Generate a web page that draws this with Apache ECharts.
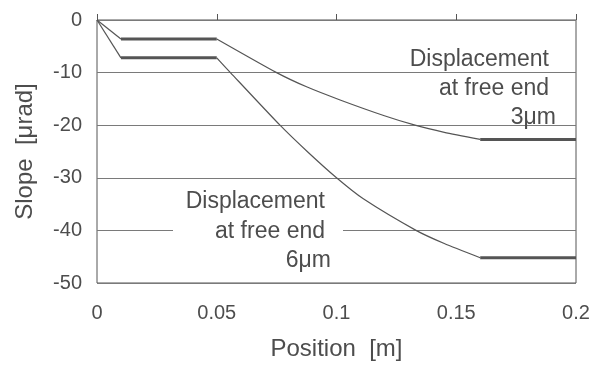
<!DOCTYPE html>
<html>
<head>
<meta charset="utf-8">
<script src="https://cdn.jsdelivr.net/npm/echarts@6/dist/echarts.min.js"></script>
<style>
  html, body { margin: 0; padding: 0; background: #fff; }
  #chart { width: 593px; height: 366px; }
</style>
</head>
<body>
<div id="chart"></div>
<script>
// position [m] and slope [urad]
const pos3 = [0, 0.01, 0.05, 0.075, 0.0875, 0.1015, 0.12, 0.1328, 0.145, 0.16, 0.2];
const slope3 = [0, -3.6, -3.6, -10, -12.7, -15.2, -18.2, -20, -21.35, -22.7, -22.7];

const pos6 = [0, 0.01, 0.05, 0.0557, 0.0764, 0.088, 0.1, 0.1112, 0.1332, 0.145, 0.16, 0.2];
const slope6 = [0, -7.2, -7.2, -10, -20, -25.1, -30, -34.0, -40, -42.5, -45.2, -45.2];

const xTicks = [0, 0.05, 0.1, 0.15, 0.2];
const yTicks = [-50, -40, -30, -20, -10, 0];

const font = '"Liberation Sans", Arial, sans-serif';
const ink = '#4d4d4d';
const lineCol = '#555';

function pts(xs, ys, a, b) {
  const out = [];
  for (let i = a; i <= b; i++) out.push([xs[i], ys[i]]);
  return out;
}

// each curve: thin ramp, thick flat, thin bend, thick flat
function curveSeries(xs, ys) {
  const n = xs.length;
  const thin = { color: lineCol, width: 1.2 };
  const thick = { color: lineCol, width: 3 };
  return [
    { type: 'line', data: pts(xs, ys, 0, 1), lineStyle: thin },
    { type: 'line', data: pts(xs, ys, 1, 2), lineStyle: thick },
    { type: 'line', data: pts(xs, ys, 2, n - 2), lineStyle: thin, smooth: 0.2 },
    { type: 'line', data: pts(xs, ys, n - 2, n - 1), lineStyle: thick },
  ].map(s => Object.assign(s, { symbol: 'none', z: 3, silent: true }));
}

let myChart = echarts.init(document.getElementById('chart'));

let option = {
  animation: false,
  backgroundColor: '#fff',
  textStyle: { fontFamily: font },
  grid: {
    left: 97, right: 17, top: 20, bottom: 80,
    show: true, borderColor: lineCol, borderWidth: 1,
  },
  xAxis: [
    {
      type: 'value',
      min: xTicks[0], max: xTicks[xTicks.length - 1], interval: 0.05,
      name: 'Position  [m]',
      nameLocation: 'middle',
      nameGap: 54,
      nameTextStyle: { color: ink, fontSize: 24, fontFamily: font },
      axisLine: { show: false },
      axisTick: { show: false },
      splitLine: { show: false },
      axisLabel: { color: ink, fontSize: 20, fontFamily: font, margin: 20 },
    },
    {
      type: 'value',
      position: 'top',
      min: xTicks[0], max: xTicks[xTicks.length - 1], interval: 0.05,
      axisLine: { show: false },
      axisTick: { show: true, inside: false, length: 6, lineStyle: { color: lineCol } },
      axisLabel: { show: false },
      splitLine: { show: false },
    },
  ],
  yAxis: {
    type: 'value',
    min: yTicks[0], max: yTicks[yTicks.length - 1], interval: 10,
    name: 'Slope  [μrad]',
    nameLocation: 'middle',
    nameGap: 60,
    nameTextStyle: { color: ink, fontSize: 24, fontFamily: font },
    axisLine: { show: false },
    axisTick: { show: false },
    axisLabel: { color: ink, fontSize: 20, fontFamily: font, margin: 15 },
    splitLine: { show: true, lineStyle: { color: '#7a7a7a', width: 1 } },
  },
  graphic: {
    elements: [
      // white box behind the lower note hides the grid line
      { type: 'rect', z: 1, shape: { x: 173, y: 187, width: 170, height: 86 }, style: { fill: '#fff' } },
      { type: 'text', z: 5, x: 549, y: 60, style: { text: 'Displacement', fill: ink, font: '23px ' + font, align: 'right', verticalAlign: 'middle' } },
      { type: 'text', z: 5, x: 549, y: 89, style: { text: 'at free end', fill: ink, font: '23px ' + font, align: 'right', verticalAlign: 'middle' } },
      { type: 'text', z: 5, x: 556, y: 118, style: { text: '3μm', fill: ink, font: '23px ' + font, align: 'right', verticalAlign: 'middle' } },
      { type: 'text', z: 5, x: 325, y: 202, style: { text: 'Displacement', fill: ink, font: '23px ' + font, align: 'right', verticalAlign: 'middle' } },
      { type: 'text', z: 5, x: 325, y: 232, style: { text: 'at free end', fill: ink, font: '23px ' + font, align: 'right', verticalAlign: 'middle' } },
      { type: 'text', z: 5, x: 331, y: 261, style: { text: '6μm', fill: ink, font: '23px ' + font, align: 'right', verticalAlign: 'middle' } },
    ],
  },
  series: curveSeries(pos3, slope3).concat(curveSeries(pos6, slope6)),
};

myChart.setOption(option);
</script>
</body>
</html>
